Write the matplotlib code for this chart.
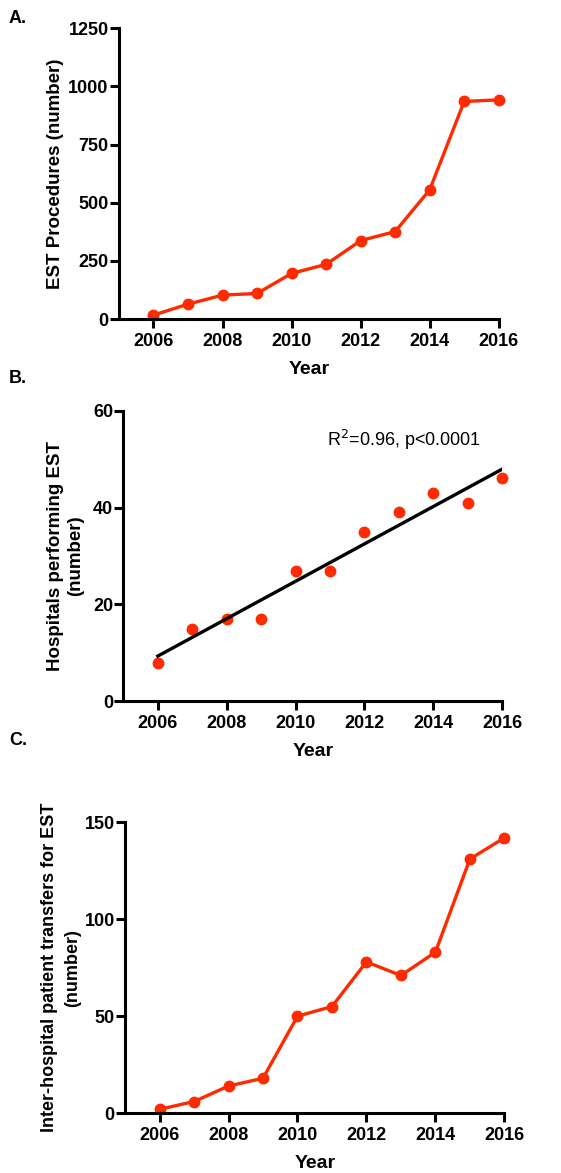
import matplotlib.pyplot as plt
import numpy as np

plt.rcParams['font.family'] = ['Liberation Sans', 'DejaVu Sans']

years = [2006, 2007, 2008, 2009, 2010, 2011, 2012, 2013, 2014, 2015, 2016]
est_procedures = [17, 64, 103, 110, 196, 235, 337, 376, 555, 935, 942]
hospitals = [8, 15, 17, 17, 27, 27, 35, 39, 43, 41, 46]
transfers = [2, 6, 14, 18, 50, 55, 78, 71, 83, 131, 142]

red = '#FF2A00'

fig = plt.figure(figsize=(5.61, 11.73), dpi=100)


def style_axis(ax, yticks, ylim):
    ax.spines['top'].set_visible(False)
    ax.spines['right'].set_visible(False)
    ax.spines['left'].set_linewidth(2.2)
    ax.spines['bottom'].set_linewidth(2.2)
    ax.set_xlim(2005, 2016)
    ax.set_xticks([2006, 2008, 2010, 2012, 2014, 2016])
    ax.set_yticks(yticks)
    ax.set_ylim(*ylim)
    ax.tick_params(width=2.2, length=6.5, labelsize=13, direction='out')
    ax.tick_params(axis='y', pad=1)
    for lab in ax.get_xticklabels() + ax.get_yticklabels():
        lab.set_fontweight('bold')
    ax.set_xlabel('Year', fontsize=14, fontweight='bold', labelpad=8)


# panel A
ax1 = fig.add_axes([0.212, 0.728, 0.677, 0.248])
ax1.plot(years, est_procedures, color=red, lw=2.4, marker='o', ms=7.5, clip_on=False)
style_axis(ax1, [0, 250, 500, 750, 1000, 1250], (0, 1250))
ax1.set_ylabel('EST Procedures (number)', fontsize=13.5, fontweight='bold', labelpad=3)

# panel B
ax2 = fig.add_axes([0.220, 0.402, 0.675, 0.248])
ax2.plot(years, hospitals, 'o', color=red, ms=7.5, clip_on=False)
fit = np.polyfit(years, hospitals, 1)
ax2.plot([years[0], years[-1]], np.polyval(fit, [years[0], years[-1]]), color='black', lw=2.4)
style_axis(ax2, [0, 20, 40, 60], (0, 60))
ax2.set_ylabel('Hospitals performing EST\n(number)', fontsize=13.5, fontweight='bold',
               labelpad=6, linespacing=1.3)
ax2.text(2010.9, 54, r'R$^2$=0.96, p<0.0001', fontsize=13, va='center', ha='left')

# panel C
ax3 = fig.add_axes([0.223, 0.051, 0.676, 0.248])
ax3.plot(years, transfers, color=red, lw=2.4, marker='o', ms=7.5, clip_on=False)
style_axis(ax3, [0, 50, 100, 150], (0, 150))
ax3.set_ylabel('Inter-hospital patient transfers for EST\n(number)', fontsize=13,
               fontweight='bold', labelpad=2.5, linespacing=1.45)

fig.text(0.016, 0.984, 'A.', fontsize=13, fontweight='bold', va='center')
fig.text(0.016, 0.677, 'B.', fontsize=13, fontweight='bold', va='center')
fig.text(0.016, 0.369, 'C.', fontsize=13, fontweight='bold', va='center')

fig.savefig('out.png', dpi=100)
